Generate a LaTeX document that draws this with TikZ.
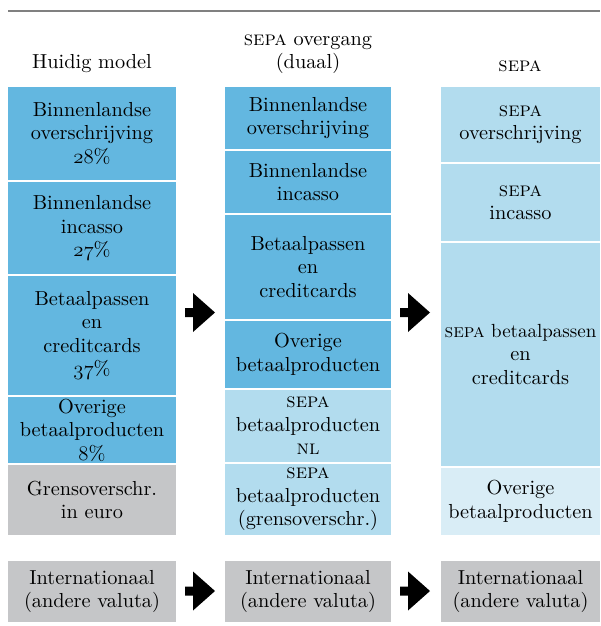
\documentclass[tikz,border=0pt]{standalone}
\usepackage{fontspec}
\setmainfont{lmroman10-regular.otf}[SmallCapsFont=lmromancaps10-regular.otf]
\definecolor{bluedark}{RGB}{99,183,224}
\definecolor{bluelight}{RGB}{178,220,238}
\definecolor{bluepale}{RGB}{217,237,246}
\definecolor{boxgray}{RGB}{197,198,200}
\definecolor{rulegray}{RGB}{128,128,128}
% old-style figures taken from the math italic font
\newcommand{\osn}[1]{{\usefont{OML}{cmm}{m}{it}#1}}
\newcommand{\tightline}{\fontsize{19}{23.5}\selectfont}
\tikzset{
  cell/.style={draw=none, inner sep=0pt, align=center, anchor=center,
    font=\fontsize{20.3}{23.5}\selectfont, text=black},
  head/.style={inner sep=0pt, align=center, font=\fontsize{20.3}{23.5}\selectfont},
  bigarrow/.style={fill=black, draw=none},
}
% \cellbox{name}{x1}{y1}{x2}{y2}{colour}{text}
\newcommand{\cellbox}[7]{%
  \node[cell, fill=#6, minimum width={(#4)-(#2)}, minimum height={(#5)-(#3)-1.6}]
        (#1) at ({((#2)+(#4))/2},{((#3)+(#5))/2}) {#7};}
% \movearrow{name}{x}{y}: block arrow whose stem starts at (x,y)
\newcommand{\movearrow}[3]{%
  \coordinate (#1) at (#2,#3);
  \fill[bigarrow] (#1) ++(0,-4.5) -- ++(8,0) -- ++(0,-15) -- ++(22,19.5)
     -- ++(-22,19.5) -- ++(0,-15) -- ++(-8,0) -- cycle;}
\begin{document}
\begin{tikzpicture}[x=1pt,y=-1pt]
\useasboundingbox (0,0) rectangle (600,626);
% top rule
\coordinate (ruleL) at (8,11);
\coordinate (ruleR) at (600,11);
\draw[rulegray, line width=2pt] (ruleL) -- (ruleR);

% column headings
\node[head] (h1) at (92,64) {Huidig model};
\node[head] (h2) at (308,54) {\textsc{sepa} overgang\\(duaal)};
\node[head] (h3) at (520,66) {\textsc{sepa}};

% current model
\cellbox{a1}{8}{86}{176}{181}{bluedark}{Binnenlandse\\overschrijving\\\osn{28}\%}
\cellbox{a2}{8}{181}{176}{275}{bluedark}{Binnenlandse\\incasso\\\osn{27}\%}
\cellbox{a3}{8}{275}{176}{396}{bluedark}{Betaalpassen\\en\\creditcards\\\osn{37}\%}
\cellbox{a4}{8}{396}{176}{464}{bluedark}{Overige\\betaalproducten\\\osn{8}\%}
\cellbox{a5}{8}{464}{176}{536}{boxgray}{Grensoverschr.\\in euro}

% transition (dual)
\cellbox{b1}{225}{86}{391}{150}{bluedark}{Binnenlandse\\overschrijving}
\cellbox{b2}{225}{150}{391}{214}{bluedark}{Binnenlandse\\incasso}
\cellbox{b3}{225}{214}{391}{320}{bluedark}{Betaalpassen\\en\\creditcards}
\cellbox{b4}{225}{320}{391}{389}{bluedark}{Overige\\betaalproducten}
\cellbox{b5}{225}{389}{391}{463}{bluelight}{\textsc{sepa}\\betaalproducten\\\textsc{nl}}
\cellbox{b6}{225}{463}{391}{536}{bluelight}{\textsc{sepa}\\betaalproducten\\(grensoverschr.)}

% SEPA
\cellbox{c1}{441}{86}{600}{163}{bluelight}{\textsc{sepa}\\overschrijving}
\cellbox{c2}{441}{163}{600}{242}{bluelight}{\textsc{sepa}\\incasso}
\cellbox{c3}{441}{242}{600}{467}{bluelight}{{\tightline\textsc{sepa} betaalpassen}\\en\\creditcards}
\cellbox{c4}{441}{467}{600}{536}{bluepale}{Overige\\betaalproducten}

% international payments
\cellbox{d1}{8}{560}{176}{623}{boxgray}{Internationaal\\(andere valuta)}
\cellbox{d2}{225}{560}{391}{623}{boxgray}{Internationaal\\(andere valuta)}
\cellbox{d3}{441}{560}{600}{623}{boxgray}{Internationaal\\(andere valuta)}

% arrows between the stages
\movearrow{m1}{185}{312.5}
\movearrow{m2}{400}{312.5}
\movearrow{m3}{185}{591}
\movearrow{m4}{400}{591}
\end{tikzpicture}
\end{document}
